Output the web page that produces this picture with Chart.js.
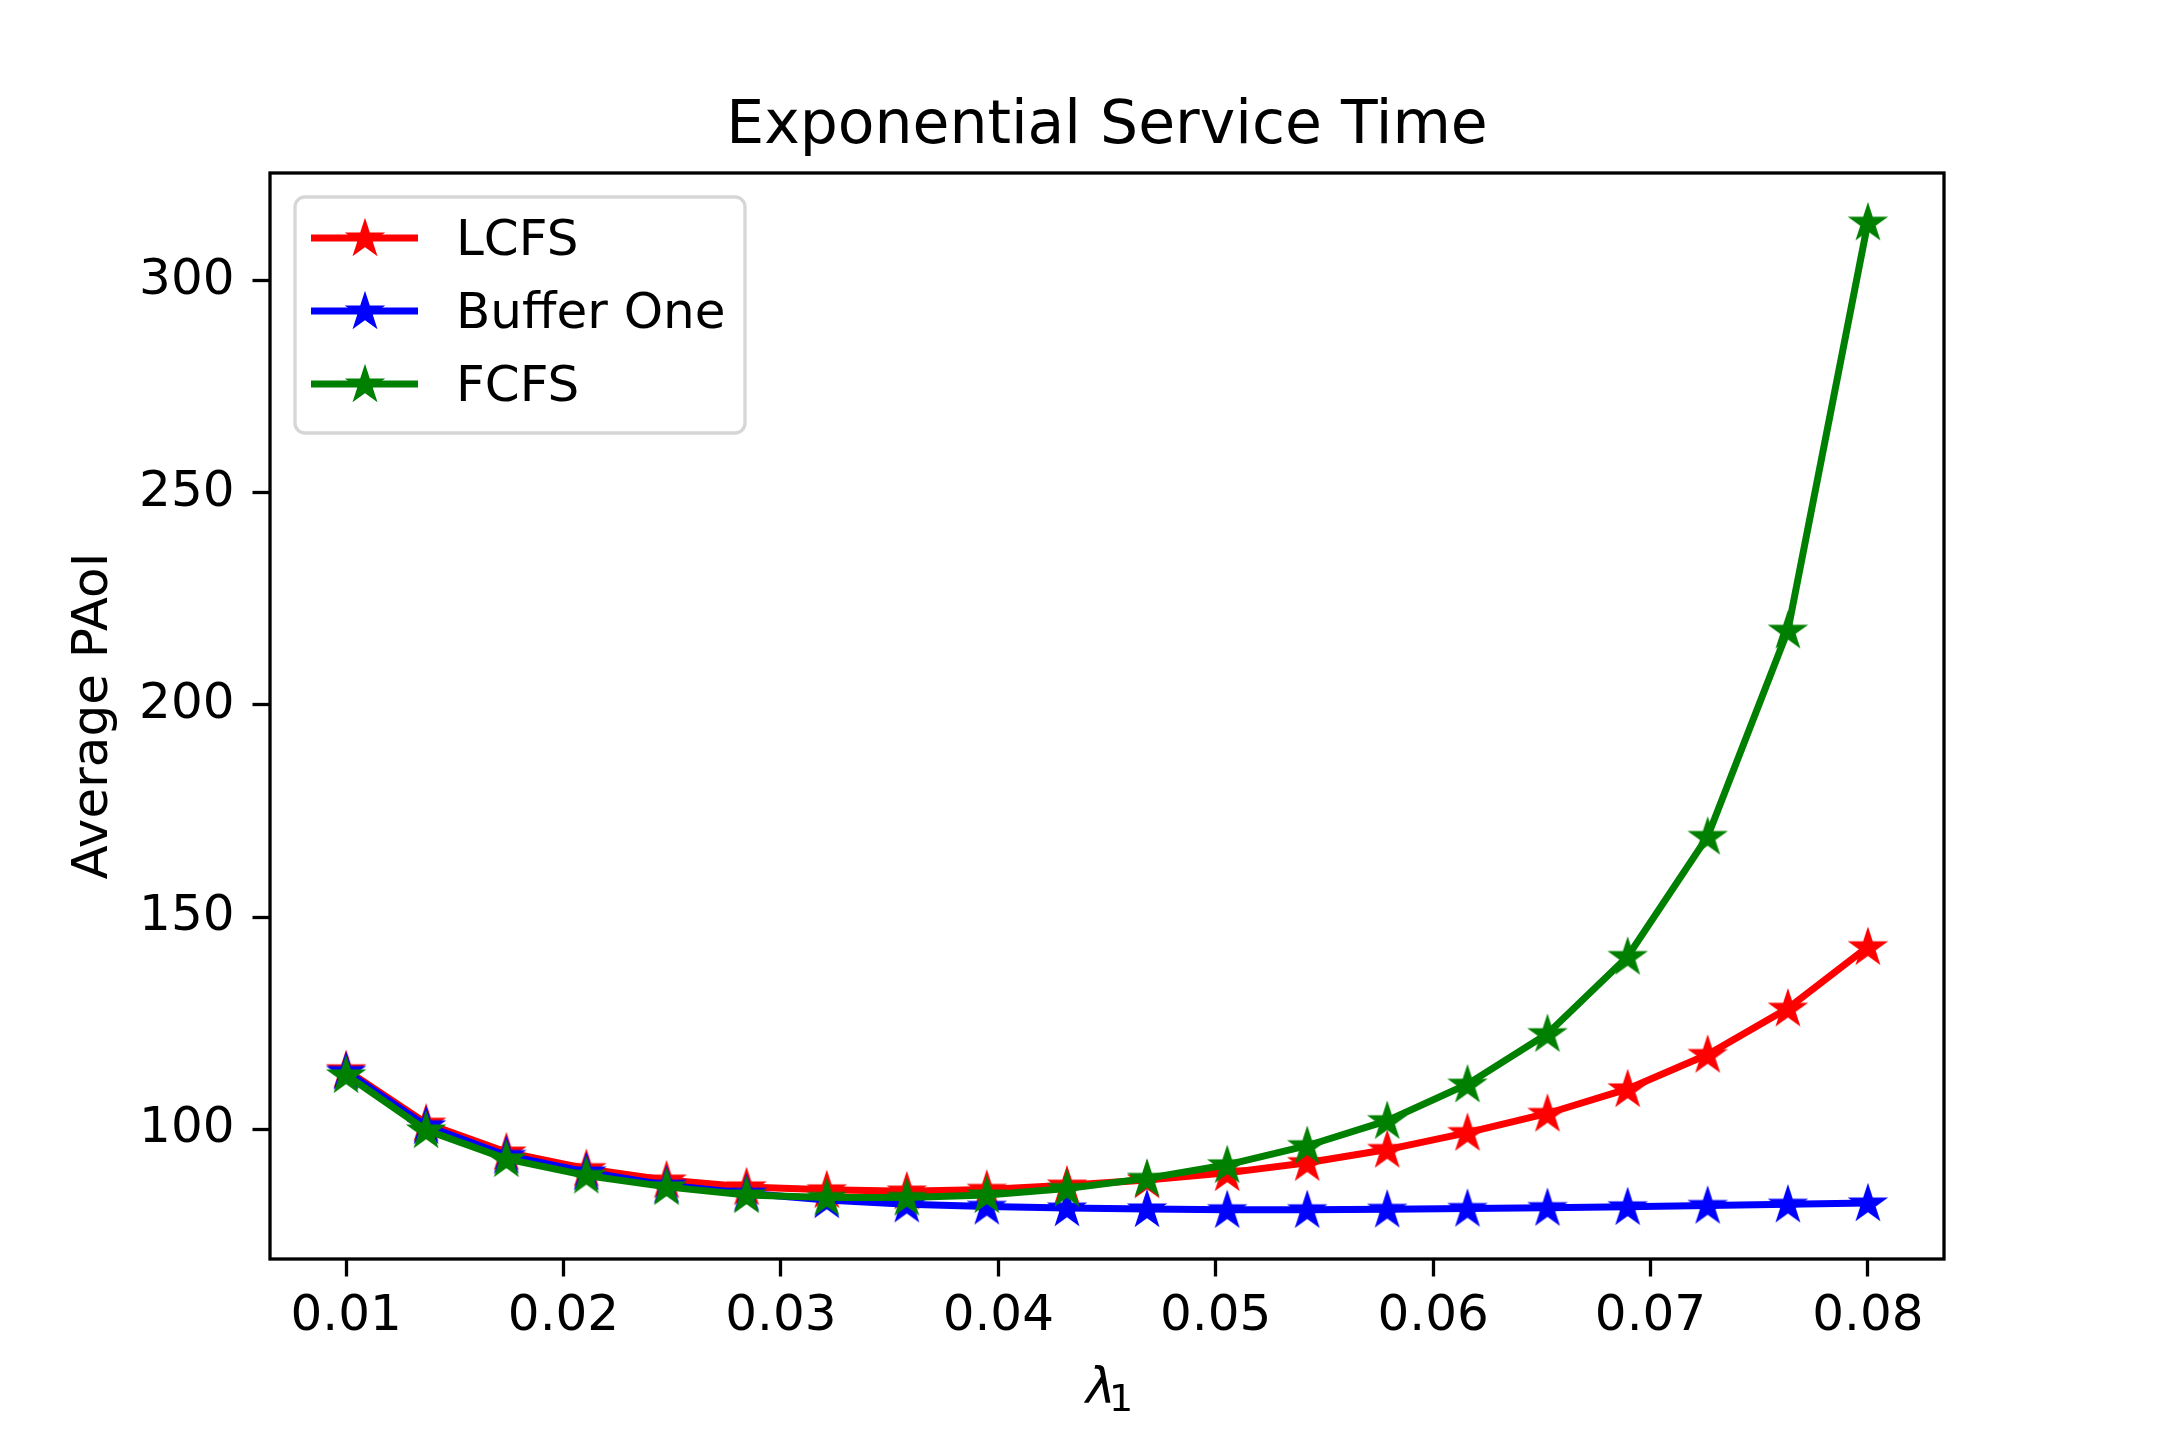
<!DOCTYPE html>
<html>
<head>
<meta charset="utf-8">
<script src="https://cdn.jsdelivr.net/npm/chart.js@4"></script>
<style>
  html, body { margin: 0; padding: 0; background: #fff; }
  #wrap { width: 2160px; height: 1440px; }
</style>
</head>
<body>
<div id="wrap"><canvas id="chart"></canvas></div>
<script>
// lambda_1 values (20 points between 0.01 and 0.08)
let lambdas = [0.01, 0.01368, 0.01737, 0.02105, 0.02474, 0.02842, 0.03211, 0.03579, 0.03947, 0.04316,
               0.04684, 0.05053, 0.05421, 0.05789, 0.06158, 0.06526, 0.06895, 0.07263, 0.07632, 0.08];

let lcfs = [114.0, 101.4, 94.6, 90.7, 88.0, 86.4, 85.7, 85.4, 85.8, 86.8,
            88.0, 89.7, 92.1, 95.2, 99.2, 103.7, 109.5, 117.6, 128.5, 143.0];
let bufferOne = [113.6, 100.8, 93.8, 89.9, 86.8, 84.9, 83.3, 82.3, 81.8, 81.4,
                 81.2, 81.0, 81.0, 81.1, 81.3, 81.5, 81.7, 82.0, 82.3, 82.6];
let fcfs = [112.8, 99.8, 93.0, 89.1, 86.4, 84.5, 83.9, 83.9, 84.5, 86.0,
            88.4, 91.6, 96.1, 102.0, 110.6, 122.5, 140.7, 169.0, 217.6, 313.8];

let xTicks = [0.01, 0.02, 0.03, 0.04, 0.05, 0.06, 0.07, 0.08];
let yTicks = [100, 150, 200, 250, 300];

const FONT = "'DejaVu Sans', sans-serif";
const TITLE = "Exponential Service Time";

// filled 5-point star like matplotlib's '*' marker
function starPath(ctx, cx, cy, r) {
  let inner = r * 0.381966;
  ctx.beginPath();
  for (let i = 0; i < 10; i++) {
    let rad = i % 2 === 0 ? r : inner;
    let a = -Math.PI / 2 + i * Math.PI / 5;
    let px = cx + rad * Math.cos(a), py = cy + rad * Math.sin(a);
    if (i === 0) ctx.moveTo(px, py); else ctx.lineTo(px, py);
  }
  ctx.closePath();
}

function makeStar(color) {
  let c = document.createElement("canvas");
  c.width = 52; c.height = 52;
  let ctx = c.getContext("2d");
  starPath(ctx, 26, 27, 14);
  ctx.fillStyle = color;
  ctx.fill();
  ctx.lineWidth = 4.5;
  ctx.lineJoin = "miter";
  ctx.strokeStyle = color;
  ctx.stroke();
  return c;
}

function makeDataset(label, values, color, order) {
  return {
    label,
    data: values.map((v, i) => ({ x: lambdas[i], y: v })),
    borderColor: color,
    backgroundColor: color,
    borderWidth: 7,
    tension: 0,
    pointStyle: makeStar(color),
    pointRadius: 15,
    pointHoverRadius: 15,
    order
  };
}

let series = [
  { label: "LCFS", color: "#ff0000" },
  { label: "Buffer One", color: "#0000ff" },
  { label: "FCFS", color: "#008000" }
];

// axes frame, title and x label (matplotlib style)
const framePlugin = {
  id: "frame",
  afterDatasetsDraw(chart) {
    let { left, top, right, bottom } = chart.chartArea;
    let ctx = chart.ctx;
    let cx = (left + right) / 2;
    ctx.save();
    ctx.strokeStyle = "#000";
    ctx.lineWidth = 3.3;
    ctx.strokeRect(left, top, right - left, bottom - top);

    ctx.fillStyle = "#000";
    ctx.textAlign = "center";
    ctx.textBaseline = "alphabetic";
    ctx.font = "60px " + FONT;
    ctx.fillText(TITLE, cx, top - 30);

    ctx.textAlign = "left";
    ctx.font = "italic 50px " + FONT;
    ctx.fillText("λ", cx - 21, 1403);
    ctx.font = "38px " + FONT;
    ctx.fillText("1", cx + 2, 1411);
    ctx.restore();
  }
};

// boxed legend in the upper left of the plot
const legendPlugin = {
  id: "boxLegend",
  afterDraw(chart) {
    let ctx = chart.ctx;
    ctx.save();
    let x0 = 295, y0 = 197, w = 450, h = 236, r = 10;
    ctx.beginPath();
    ctx.roundRect(x0, y0, w, h, r);
    ctx.fillStyle = "rgba(255,255,255,0.8)";
    ctx.fill();
    ctx.lineWidth = 3.3;
    ctx.strokeStyle = "#d6d6d6";
    ctx.stroke();
    let rows = [238, 311, 384];
    series.forEach((s, i) => {
      let y = rows[i];
      ctx.beginPath();
      ctx.moveTo(311, y);
      ctx.lineTo(418, y);
      ctx.strokeStyle = s.color;
      ctx.lineWidth = 7;
      ctx.stroke();
      ctx.drawImage(makeStar(s.color), 365 - 26, y - 26);
      ctx.fillStyle = "#000";
      ctx.font = "50px " + FONT;
      ctx.textBaseline = "alphabetic";
      ctx.textAlign = "left";
      ctx.fillText(s.label, 456, y + 17);
    });
    ctx.restore();
  }
};

let tickGrid = { display: true, drawOnChartArea: false, drawTicks: true, tickLength: 17.5, tickWidth: 3.3, tickColor: "#000" };

let ctx = document.getElementById("chart").getContext("2d");
new Chart(ctx, {
  type: "line",
  data: {
    datasets: [
      makeDataset("LCFS", lcfs, "#ff0000", 2),
      makeDataset("Buffer One", bufferOne, "#0000ff", 1),
      makeDataset("FCFS", fcfs, "#008000", 0)
    ]
  },
  options: {
    responsive: true,
    maintainAspectRatio: false,
    animation: false,
    devicePixelRatio: 1,
    layout: { padding: { left: 0, right: 216, top: 173, bottom: 0 } },
    plugins: {
      legend: { display: false },
      tooltip: { enabled: false },
      title: { display: false }
    },
    scales: {
      x: {
        type: "linear",
        min: 0.0065,
        max: 0.0835,
        afterFit(scale) { scale.height = 181; },
        afterBuildTicks(scale) { scale.ticks = xTicks.map(v => ({ value: v })); },
        border: { display: false },
        grid: tickGrid,
        ticks: {
          color: "#000",
          padding: 11,
          maxRotation: 0,
          autoSkip: false,
          font: { family: FONT, size: 50 },
          callback: v => v.toFixed(2)
        }
      },
      y: {
        min: 69.4,
        max: 325.4,
        afterFit(scale) { scale.width = 270; },
        afterBuildTicks(scale) { scale.ticks = yTicks.map(v => ({ value: v })); },
        border: { display: false },
        grid: tickGrid,
        ticks: {
          color: "#000",
          padding: 18,
          autoSkip: false,
          font: { family: FONT, size: 50 }
        },
        title: {
          display: true,
          text: "Average PAoI",
          color: "#000",
          font: { family: FONT, size: 50 },
          padding: { top: 64, bottom: 0 }
        }
      }
    }
  },
  plugins: [framePlugin, legendPlugin]
});
</script>
</body>
</html>
